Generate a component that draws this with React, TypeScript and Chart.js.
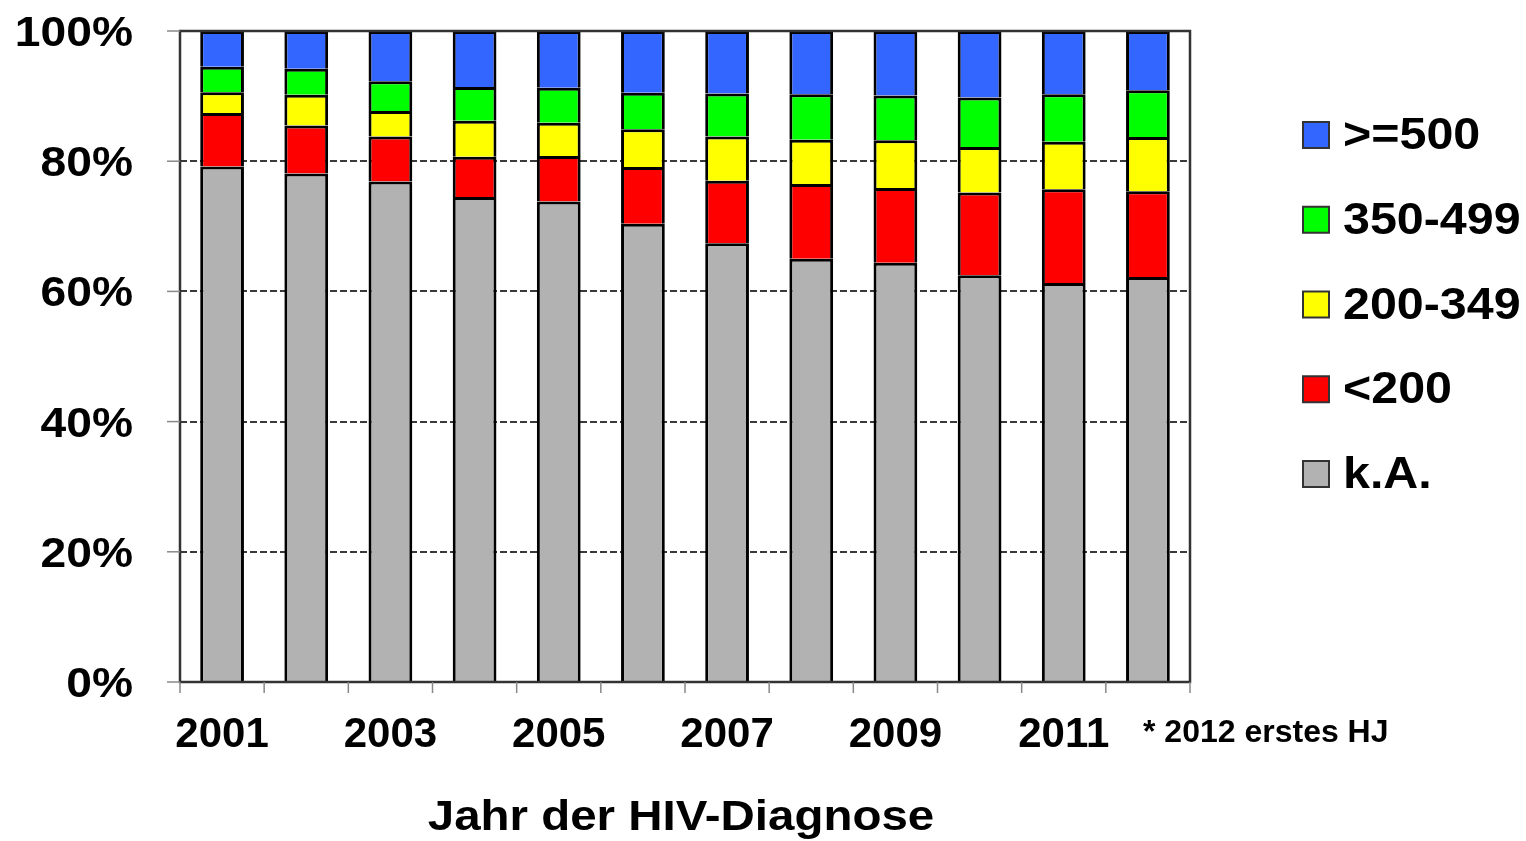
import React, { useEffect, useRef } from "react";
import { Chart, registerables } from "chart.js";

Chart.register(...registerables);

const years = ["2001", "2002", "2003", "2004", "2005", "2006", "2007", "2008", "2009", "2010", "2011", "2012"];
const tickLabels = ["2001", "", "2003", "", "2005", "", "2007", "", "2009", "", "2011", ""];
const yTicks = [0, 20, 40, 60, 80, 100];
const noteText = "* 2012 erstes HJ";
const axisTitle = "Jahr der HIV-Diagnose";

const seriesNames = ["k.A.", "<200", "200-349", "350-499", ">=500"];
const seriesColors = ["#B2B2B2", "#FF0000", "#FFFF00", "#00FF00", "#3366FF"];

const kA = [79.2, 78.1, 76.9, 74.5, 73.8, 70.4, 67.4, 65.0, 64.4, 62.5, 61.3, 62.2];
const under200 = [8.2, 7.4, 6.9, 6.2, 7.0, 8.7, 9.6, 11.5, 11.5, 12.7, 14.4, 13.2];
const r200to349 = [3.2, 4.7, 3.9, 5.5, 5.1, 5.8, 6.8, 6.8, 7.3, 7.0, 7.3, 8.3];
const r350to499 = [3.9, 4.0, 4.6, 5.2, 5.4, 5.6, 6.6, 7.0, 6.9, 7.6, 7.3, 7.2];
const over500 = [5.5, 5.8, 7.7, 8.6, 8.7, 9.5, 9.6, 9.7, 9.9, 10.2, 9.7, 9.1];

const seriesValues = [kA, under200, r200to349, r350to499, over500];

const FONT = "'Liberation Sans', Arial, Helvetica, sans-serif";

function stretchText(
  ctx: CanvasRenderingContext2D,
  text: string,
  x: number,
  y: number,
  align: CanvasTextAlign,
  sx: number,
  font: string
) {
  ctx.save();
  ctx.translate(x, y);
  ctx.scale(sx, 1);
  ctx.font = font;
  ctx.textAlign = align;
  ctx.textBaseline = "alphabetic";
  ctx.fillStyle = "#000";
  ctx.fillText(text, 0, 0);
  ctx.restore();
}

const decorPlugin = {
  id: "decor",
  beforeDatasetsDraw(chart: any) {
    const ctx: CanvasRenderingContext2D = chart.ctx;
    const { left, right } = chart.chartArea;
    const y = chart.scales.y;
    ctx.save();
    ctx.strokeStyle = "#3a3a3a";
    ctx.lineWidth = 2;
    ctx.setLineDash([7, 3]);
    yTicks.forEach((v) => {
      if (v === 0 || v === 100) return;
      const py = Math.round(y.getPixelForValue(v));
      ctx.beginPath();
      ctx.moveTo(left, py);
      ctx.lineTo(right, py);
      ctx.stroke();
    });
    ctx.restore();
  },
  afterDraw(chart: any) {
    const ctx: CanvasRenderingContext2D = chart.ctx;
    const { left, right, top, bottom } = chart.chartArea;
    const x = chart.scales.x;
    const y = chart.scales.y;
    ctx.save();
    // frame
    ctx.strokeStyle = "#333";
    ctx.lineWidth = 2.5;
    ctx.setLineDash([]);
    ctx.strokeRect(left, top, right - left, bottom - top);
    // y tick marks + labels
    ctx.strokeStyle = "#888";
    ctx.lineWidth = 1.5;
    yTicks.forEach((v) => {
      const py = y.getPixelForValue(v);
      ctx.beginPath();
      ctx.moveTo(left - 13, py);
      ctx.lineTo(left, py);
      ctx.stroke();
      stretchText(ctx, v + "%", 133, py + 15, "right", 1.1, `bold 42px ${FONT}`);
    });
    // x tick marks at category boundaries
    const n = years.length;
    for (let i = 0; i <= n; i++) {
      const px = left + ((right - left) * i) / n;
      ctx.beginPath();
      ctx.moveTo(px, bottom);
      ctx.lineTo(px, bottom + 11);
      ctx.stroke();
    }
    // x labels
    tickLabels.forEach((lab, i) => {
      if (!lab) return;
      const px = x.getPixelForValue(i);
      stretchText(ctx, lab, px, 747, "center", 1.0, `bold 42px ${FONT}`);
    });
    // note
    stretchText(ctx, noteText, 1143, 742, "left", 1.0, `bold 32px ${FONT}`);
    // axis title
    stretchText(ctx, axisTitle, 681, 830, "center", 1.13, `bold 42px ${FONT}`);
    // legend
    const ds = chart.data.datasets;
    for (let k = 0; k < ds.length; k++) {
      const d = ds[ds.length - 1 - k];
      const cy = 135 + k * 84.75;
      ctx.fillStyle = d.backgroundColor;
      ctx.fillRect(1303, cy - 13, 26, 26);
      ctx.strokeStyle = "#333";
      ctx.lineWidth = 2;
      ctx.strokeRect(1303, cy - 13, 26, 26);
      stretchText(ctx, d.label, 1343, cy + 14, "left", 1.1, `bold 44px ${FONT}`);
    }
    ctx.restore();
  },
};

export default function App() {
  const ref = useRef<HTMLCanvasElement | null>(null);

  useEffect(() => {
    document.body.style.margin = "0";
    const canvas = ref.current;
    if (!canvas) return;
    const chart = new Chart(canvas, {
      type: "bar",
      data: {
        labels: years,
        datasets: seriesNames.map((name, i) => ({
          label: name,
          data: seriesValues[i],
          backgroundColor: seriesColors[i],
          borderColor: "#000",
          borderWidth: 3,
          borderSkipped: "start",
          categoryPercentage: 1,
          barPercentage: 0.52,
        })),
      },
      options: {
        responsive: false,
        devicePixelRatio: 1,
        animation: false,
        layout: { padding: { left: 180, right: 336, top: 31, bottom: 159 } },
        plugins: { legend: { display: false }, tooltip: { enabled: false } },
        scales: {
          x: { stacked: true, display: false },
          y: { stacked: true, display: false, min: 0, max: 100 },
        },
      },
      plugins: [decorPlugin],
    });
    return () => chart.destroy();
  }, []);

  return (
    <div style={{ width: 1526, height: 841, background: "#fff" }}>
      <canvas ref={ref} width={1526} height={841} style={{ display: "block" }} />
    </div>
  );
}
